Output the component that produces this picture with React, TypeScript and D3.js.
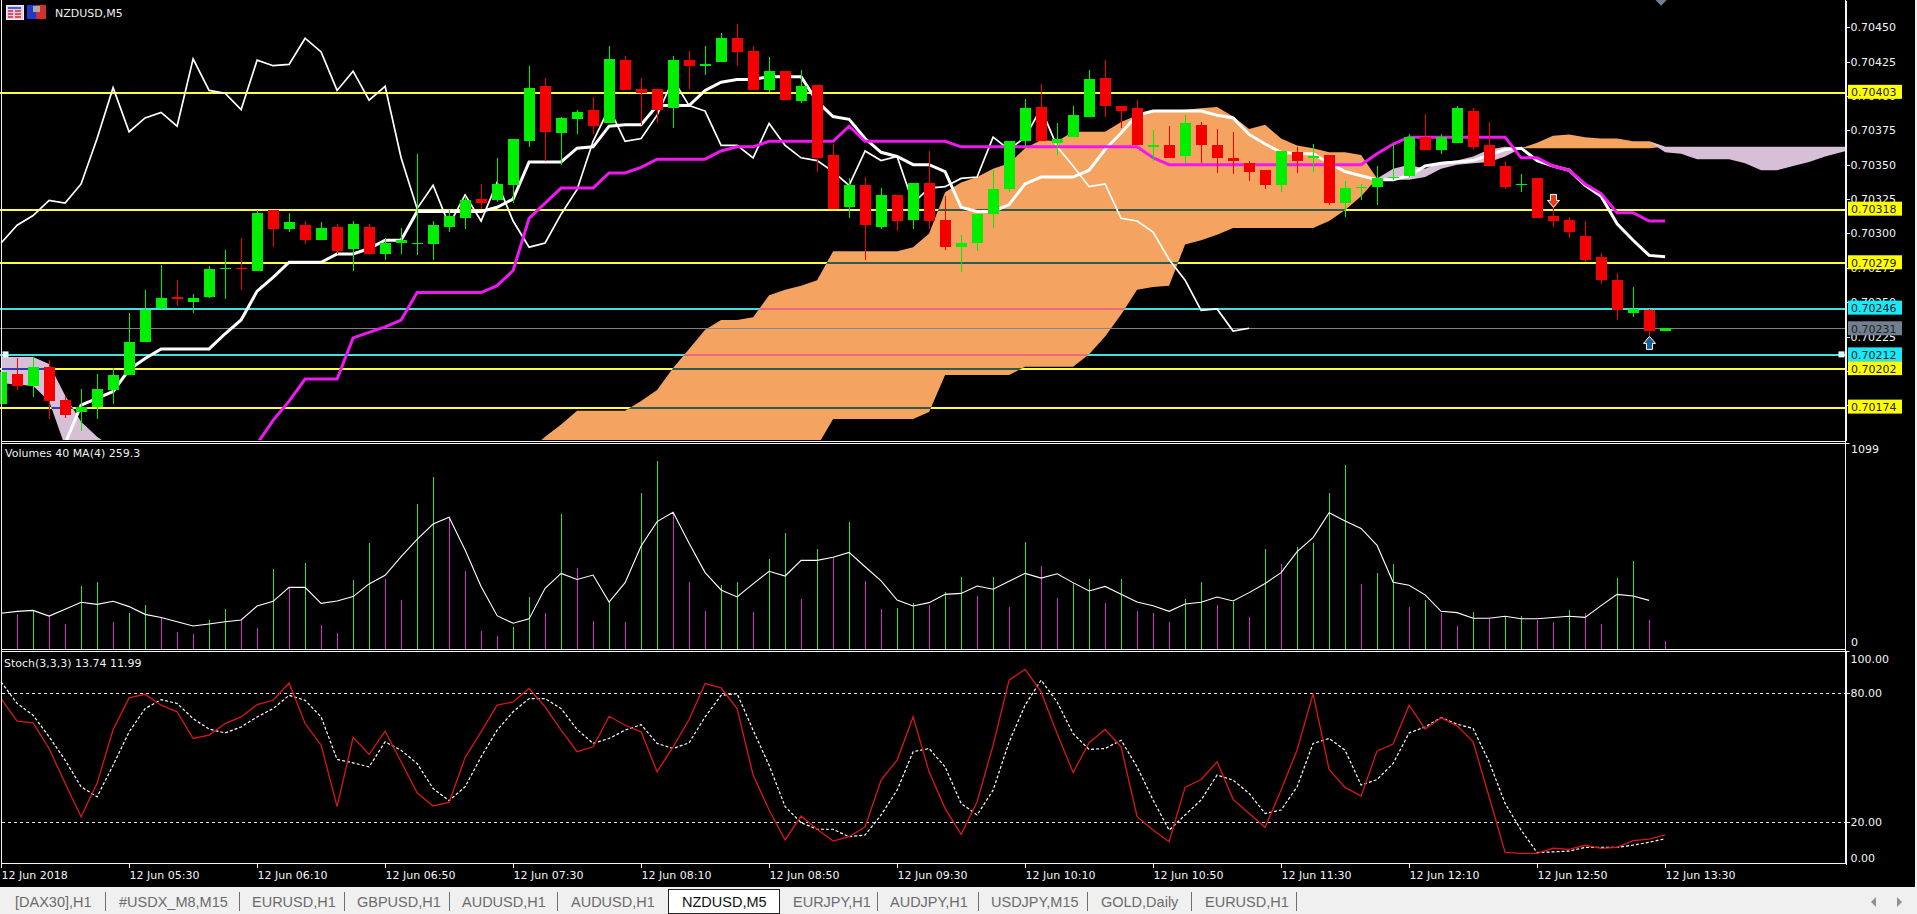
import React, { useEffect, useRef } from 'react';
import * as d3 from 'd3';

// prices are in points, 70403 = 0.70403
const opens = [70176,70198,70189,70203,70179,70170,70174,70186,70197,70221,70246,70254,70250,70254,70274,70275,70273,70317,70303,70306,70295,70305,70289,70305,70285,70293,70292,70292,70305,70311,70325,70324,70335,70367,70407,70373,70383,70390,70380,70426,70405,70405,70391,70426,70422,70425,70442,70433,70404,70418,70396,70408,70357,70319,70335,70305,70328,70310,70337,70310,70290,70293,70314,70332,70367,70392,70366,70370,70385,70413,70393,70391,70363,70364,70356,70379,70364,70355,70351,70346,70335,70359,70355,70357,70322,70333,70334,70340,70342,70370,70361,70366,70389,70364,70349,70335,70340,70313,70310,70298,70283,70266,70242,70244,70229];
const highs = [70203,70209,70210,70208,70182,70187,70198,70202,70242,70259,70277,70266,70256,70276,70288,70297,70317,70317,70315,70309,70308,70307,70309,70307,70297,70304,70358,70309,70317,70327,70336,70355,70369,70422,70413,70385,70390,70399,70436,70429,70413,70405,70429,70433,70436,70446,70452,70436,70428,70418,70419,70408,70365,70340,70341,70333,70328,70337,70360,70327,70299,70314,70346,70367,70398,70409,70380,70393,70419,70426,70393,70397,70375,70378,70386,70381,70376,70374,70353,70346,70360,70363,70365,70357,70338,70336,70349,70365,70372,70387,70372,70393,70391,70381,70353,70343,70340,70329,70312,70309,70286,70271,70261,70245,70231];
const lows = [70175,70186,70181,70165,70166,70156,70165,70176,70197,70221,70245,70247,70242,70253,70252,70259,70273,70290,70301,70292,70295,70285,70273,70284,70281,70285,70284,70281,70301,70303,70318,70323,70322,70363,70353,70350,70372,70372,70380,70404,70379,70380,70377,70405,70415,70425,70422,70404,70403,70397,70395,70345,70318,70311,70281,70303,70302,70303,70303,70288,70272,70287,70304,70330,70363,70367,70357,70370,70385,70385,70377,70364,70353,70355,70351,70351,70344,70343,70338,70332,70330,70344,70345,70321,70312,70324,70321,70339,70341,70361,70358,70366,70361,70349,70332,70330,70311,70305,70297,70279,70263,70237,70239,70224,70229];
const closes = [70199,70189,70203,70178,70168,70174,70187,70197,70221,70244,70253,70252,70253,70274,70275,70274,70315,70303,70308,70295,70304,70287,70307,70285,70293,70295,70293,70306,70313,70324,70322,70336,70369,70406,70374,70384,70388,70378,70427,70404,70402,70390,70426,70422,70423,70442,70432,70404,70418,70397,70407,70355,70318,70335,70306,70328,70309,70337,70309,70290,70293,70314,70332,70367,70391,70367,70369,70386,70412,70393,70389,70364,70364,70355,70380,70364,70355,70353,70345,70335,70360,70353,70356,70322,70333,70334,70340,70341,70370,70361,70370,70391,70363,70349,70334,70336,70311,70309,70301,70281,70266,70244,70245,70229,70231];

const n = null;
const tenkan = [n,n,n,n,70147,70175,70180,70185,70201,70209,70216,70216,70216,70216,70227,70237,70258,70268,70279,70279,70279,70285,70285,70289,70295,70295,70316,70316,70316,70316,70316,70319,70325,70352,70352,70352,70362,70363,70378,70379,70379,70393,70393,70393,70404,70410,70412,70412,70414,70414,70414,70396,70385,70383,70369,70359,70356,70350,70350,70345,70319,70316,70316,70321,70336,70341,70341,70341,70346,70361,70373,70386,70389,70389,70389,70389,70386,70384,70372,70365,70359,70358,70358,70351,70345,70342,70339,70339,70342,70349,70351,70352,70353,70357,70361,70362,70353,70349,70346,70335,70327,70307,70295,70284,70283];
const kijun = [n,n,n,n,n,n,n,n,n,n,n,n,n,n,n,n,70147,70164,70178,70194,70194,70194,70224,70228,70232,70237,70257,70257,70257,70257,70257,70262,70273,70311,70322,70333,70333,70333,70344,70344,70348,70354,70354,70354,70354,70360,70363,70363,70367,70367,70367,70367,70367,70378,70367,70367,70367,70367,70367,70367,70363,70363,70363,70363,70363,70363,70363,70363,70363,70363,70363,70363,70355,70350,70350,70350,70350,70350,70350,70350,70350,70350,70350,70350,70350,70350,70358,70365,70370,70370,70370,70370,70370,70370,70370,70355,70355,70349,70346,70336,70329,70315,70315,70309,70309];
const chikou = [70293,70306,70313,70324,70322,70336,70369,70406,70374,70384,70388,70378,70427,70404,70402,70390,70426,70422,70423,70442,70432,70404,70418,70397,70407,70355,70318,70335,70306,70328,70309,70337,70309,70290,70293,70314,70332,70367,70391,70367,70369,70386,70412,70393,70389,70364,70364,70355,70380,70364,70355,70353,70345,70335,70360,70353,70356,70322,70333,70334,70340,70341,70370,70361,70370,70391,70363,70349,70334,70336,70311,70309,70301,70281,70266,70244,70245,70229,70231];

// cloud runs 26 bars past the last candle, the part before bar 33 mostly sits under the pane
const senkouA = [70191,70190,70189,70178,70145,70142,70142,70144,70130,70130,70130,70130,70130,70130,70130,70130,70130,70130,70130,70130,70130,70130,70130,70130,70130,70130,70130,70130,70130,70130,70130,70130,70130,70142,70152,70161,70171,70171,70171,70171,70178,70186,70202,70216,70230,70237,70237,70239,70255,70259,70262,70266,70287,70287,70287,70287,70287,70290,70300,70330,70337,70341,70347,70351,70362,70368,70367,70374,70374,70374,70381,70386,70389,70389,70390,70391,70392,70385,70376,70379,70369,70364,70362,70359,70359,70357,70340,70339,70339,70341,70347,70350,70351,70352,70356,70362,70366,70371,70372,70370,70369,70369,70367,70367,70359,70358,70354,70354,70354,70351,70346,70346,70349,70352,70356,70359,70362];
const senkouB = [70210,70210,70210,70205,70182,70163,70152,70144,70130,70130,70130,70130,70130,70130,70130,70130,70130,70130,70130,70130,70130,70130,70130,70130,70130,70130,70130,70130,70130,70130,70130,70130,70130,70126,70126,70126,70126,70126,70126,70126,70126,70126,70126,70126,70126,70126,70126,70126,70126,70126,70126,70145,70165,70165,70165,70165,70165,70165,70170,70197,70197,70197,70197,70197,70203,70203,70203,70203,70212,70225,70241,70259,70261,70262,70292,70295,70299,70304,70304,70304,70304,70304,70304,70309,70317,70327,70340,70347,70350,70347,70352,70353,70356,70361,70363,70362,70362,70362,70362,70362,70362,70362,70362,70362,70363,70363,70363,70363,70363,70363,70363,70363,70363,70363,70363,70363,70363];

const volumes = [191,187,205,176,134,335,355,146,194,233,168,92,81,155,212,159,113,423,323,455,127,88,367,561,374,261,769,910,699,416,99,71,120,275,191,716,430,150,252,146,826,997,723,358,205,340,355,198,476,614,268,529,487,674,362,213,221,243,235,302,385,282,385,226,568,443,273,353,370,247,370,205,194,146,265,355,235,252,169,531,452,540,561,826,974,346,402,452,226,261,194,125,198,161,173,176,155,146,208,194,134,377,467,155,44];
const volumeMA = [191,201,206,176,212,249,238,254,226,185,168,146,123,134,146,155,229,254,328,328,243,256,279,346,392,490,582,663,699,526,332,178,138,161,323,402,370,393,250,353,547,676,725,561,406,314,277,346,413,388,471,471,487,513,437,362,261,229,247,291,296,335,318,360,402,377,400,353,309,333,291,250,231,201,240,249,277,256,300,348,406,517,591,723,679,640,550,355,339,288,201,194,164,164,175,162,162,168,175,169,231,291,282,259];

const stochK = [77.6,67.0,66.2,54.2,37.9,22.3,37.9,63.1,77.9,79.6,74.5,71.4,58.9,60.5,65.9,69.0,74.8,76.8,84.9,65.9,55.8,27.0,59.4,51.4,62.3,48.0,33.5,27.3,29.0,50.0,62.0,74.5,76.0,82.3,73.7,62.8,52.7,55.0,69.3,65.1,62.0,43.3,55.0,67.8,84.6,82.6,72.9,41.8,25.4,11.4,22.6,16.4,10.9,12.9,17.6,39.4,48.8,69.0,43.3,26.2,14.0,29.3,55.8,86.2,91.2,80.7,61.2,43.0,56.9,63.1,55.0,22.3,16.1,10.6,36.0,39.7,48.0,30.4,23.8,17.3,34.8,53.5,79.9,44.4,36.0,31.9,53.1,56.3,74.5,63.3,68.6,64.8,57.3,31.6,5.6,5.1,5.1,7.5,7.0,8.9,7.5,7.9,11.1,11.8,13.74];
const stochD = [85.4,75.3,69.8,59.7,48.8,36.3,31.6,46.4,62.0,72.9,77.1,75.3,68.2,63.3,61.5,64.3,69.0,72.9,79.1,76.8,69.0,49.1,47.5,45.6,57.3,53.4,47.2,35.5,29.8,36.3,50.3,62.8,71.4,77.6,77.6,72.9,63.1,56.6,58.9,62.8,65.4,56.6,54.2,56.9,69.0,79.1,79.9,62.8,46.4,27.0,19.5,16.4,16.4,12.9,13.7,23.1,34.7,52.7,54.2,45.6,28.5,23.1,34.7,57.3,74.5,86.2,76.0,61.2,53.8,54.2,58.1,45.6,30.1,16.0,23.1,30.1,41.8,39.4,33.2,23.8,25.4,36.3,56.6,58.9,53.4,37.1,39.7,47.2,61.5,64.3,68.7,65.6,63.6,48.0,28.5,16.0,5.5,5.8,6.2,7.9,7.9,7.9,9.0,10.3,11.99];

const yellowLevels = [70403, 70318, 70279, 70202, 70174];
const cyanLevels = [70246, 70212];
const lastPrice = 70231;
const priceTicks = [70450, 70425, 70400, 70375, 70350, 70325, 70300, 70275, 70250, 70225, 70200, 70175];
const stochTicks = [100, 80, 20, 0];
const timeBars = [0, 8, 16, 24, 32, 40, 48, 56, 64, 72, 80, 88, 96, 104];
const timeLabels = ['12 Jun 2018', '12 Jun 05:30', '12 Jun 06:10', '12 Jun 06:50', '12 Jun 07:30', '12 Jun 08:10', '12 Jun 08:50', '12 Jun 09:30', '12 Jun 10:10', '12 Jun 10:50', '12 Jun 11:30', '12 Jun 12:10', '12 Jun 12:50', '12 Jun 13:30'];

const tabNames = ['[DAX30],H1', '#USDX_M8,M15', 'EURUSD,H1', 'GBPUSD,H1', 'AUDUSD,H1', 'AUDUSD,H1', 'NZDUSD,M5', 'EURJPY,H1', 'AUDJPY,H1', 'USDJPY,M15', 'GOLD,Daily', 'EURUSD,H1'];
const tabStarts = [15, 119, 252, 357, 462, 571, 682, 793, 890, 991, 1101, 1205];
const tabSeps = [105, 239, 344, 449, 557, 877, 978, 1087, 1191, 1296];

const FONT = '"DejaVu Sans", sans-serif';
const W = 1917;
const H = 914;
const AXIS_X = 1845.5;

const App: React.FC = () => {
  const ref = useRef<SVGSVGElement>(null);

  useEffect(() => {
    document.body.style.margin = '0';
    document.body.style.background = '#000';
    const svg = d3.select(ref.current);
    svg.selectAll('*').remove();

    svg.append('rect').attr('width', W).attr('height', H).attr('fill', '#000');

    // scales, one bar is 16px
    const x = d3.scaleLinear().domain([0, 116]).range([1.1, 1857.1]);
    const priceY = d3.scaleLinear().domain([70469.8, 70149.2]).range([0, 440.7]);
    const volY = d3.scaleLinear().domain([0, 1099]).range([649.3, 441.7]);
    const stochY = d3.scaleLinear().domain([0, 100]).range([864.3, 650.7]);

    const defs = svg.append('defs');
    defs.append('clipPath').attr('id', 'pricePane').append('rect')
      .attr('x', 0).attr('y', 0).attr('width', AXIS_X).attr('height', 440);

    // cloud: orange where A is on top, thistle where B is
    const upCloud = d3.area<number>()
      .x((d, i) => x(i))
      .y0((d, i) => priceY(senkouB[i]))
      .y1((d, i) => priceY(Math.max(senkouA[i], senkouB[i])));
    const downCloud = d3.area<number>()
      .x((d, i) => x(i))
      .y0((d, i) => priceY(senkouA[i]))
      .y1((d, i) => priceY(Math.max(senkouA[i], senkouB[i])));

    defs.append('clipPath').attr('id', 'upClip').append('path').attr('d', upCloud(senkouA));
    defs.append('clipPath').attr('id', 'downClip').append('path').attr('d', downCloud(senkouA));

    const price = svg.append('g').attr('clip-path', 'url(#pricePane)');
    price.append('path').attr('d', upCloud(senkouA)).attr('fill', '#f4a460');
    price.append('path').attr('d', downCloud(senkouA)).attr('fill', '#d8bfd8');

    // horizontal levels change colour where they cross the cloud
    const drawLevels = (parent, values, color, width) => {
      parent.selectAll(null)
        .data(values)
        .enter().append('line')
        .attr('x1', 0).attr('x2', AXIS_X)
        .attr('y1', (d) => Math.round(priceY(d)) + 0.5)
        .attr('y2', (d) => Math.round(priceY(d)) + 0.5)
        .attr('stroke', color)
        .attr('stroke-width', width)
        .attr('shape-rendering', 'crispEdges');
    };
    drawLevels(price, yellowLevels, '#ffff40', 2);
    drawLevels(price, cyanLevels, '#40e0e0', 2);
    drawLevels(price, [lastPrice], '#808080', 1);
    const onUp = price.append('g').attr('clip-path', 'url(#upClip)');
    drawLevels(onUp, yellowLevels, '#2f5a50', 2);
    drawLevels(onUp, cyanLevels, '#f0687a', 2);
    drawLevels(onUp, [lastPrice], '#7d8a90', 1);
    const onDown = price.append('g').attr('clip-path', 'url(#downClip)');
    drawLevels(onDown, yellowLevels, '#2a40c0', 2);

    // ichimoku lines
    const priceLine = d3.line<number | null>()
      .defined((d) => d !== null)
      .x((d, i) => x(i))
      .y((d) => priceY(d as number));
    price.append('path').attr('d', priceLine(chikou)).attr('fill', 'none').attr('stroke', '#fff').attr('stroke-width', 1.7);
    price.append('path').attr('d', priceLine(tenkan)).attr('fill', 'none').attr('stroke', '#fff').attr('stroke-width', 3);
    price.append('path').attr('d', priceLine(kijun)).attr('fill', 'none').attr('stroke', '#f018f0').attr('stroke-width', 3);

    // candles
    const candles = price.selectAll('g.candle')
      .data(opens)
      .enter().append('g')
      .attr('class', 'candle')
      .attr('fill', (d, i) => (closes[i] >= d ? '#00ee00' : '#f40000'))
      .attr('shape-rendering', 'crispEdges');
    candles.append('rect')
      .attr('x', (d, i) => Math.round(x(i)))
      .attr('width', 1)
      .attr('y', (d, i) => priceY(highs[i]))
      .attr('height', (d, i) => Math.max(1, priceY(lows[i]) - priceY(highs[i])));
    candles.append('rect')
      .attr('x', (d, i) => Math.round(x(i)) - 5)
      .attr('width', 11)
      .attr('y', (d, i) => priceY(Math.max(d, closes[i])))
      .attr('height', (d, i) => Math.max(1, Math.abs(priceY(d) - priceY(closes[i]))));

    // trade arrows and small handles
    const arrow = (bar, level, fill, dir) => {
      const cx = Math.round(x(bar)) + 0.5;
      const cy = priceY(level);
      const pts = [[0, -7], [6, 0], [3, 0], [3, 6], [-3, 6], [-3, 0], [-6, 0]]
        .map((p) => [cx + p[0], cy + p[1] * dir].join(',')).join(' ');
      svg.append('polygon').attr('points', pts).attr('fill', fill).attr('stroke', '#fff').attr('stroke-width', 1);
    };
    arrow(97, 70324, '#e83a1a', -1);
    arrow(103, 70220, '#1a5c9c', 1);

    svg.append('path')
      .attr('d', d3.symbol(d3.symbolSquare, 70)())
      .attr('transform', `translate(${x(103.75)},${priceY(70470)}) rotate(45)`)
      .attr('fill', '#708090');

    [5.5, 1841.5].forEach((hx) => {
      svg.append('rect')
        .attr('x', hx - 3).attr('y', priceY(cyanLevels[1]) - 3)
        .attr('width', 6).attr('height', 6)
        .attr('fill', '#e0ffff');
    });

    // volumes
    const vol = svg.append('g');
    vol.selectAll('rect')
      .data(volumes)
      .enter().append('rect')
      .attr('x', (d, i) => Math.round(x(i)))
      .attr('width', 1)
      .attr('y', (d) => volY(d))
      .attr('height', (d) => volY(0) - volY(d))
      .attr('shape-rendering', 'crispEdges')
      .attr('fill', (d, i) => (i === 0 || d > volumes[i - 1] ? '#3cdc3c' : '#c838c8'));
    const volLine = d3.line<number>().x((d, i) => x(i)).y((d) => volY(d));
    vol.append('path').attr('d', volLine(volumeMA)).attr('fill', 'none').attr('stroke', '#fff').attr('stroke-width', 1.1);

    // stochastic
    const stoch = svg.append('g');
    stoch.selectAll('line')
      .data([80, 20])
      .enter().append('line')
      .attr('x1', 2).attr('x2', AXIS_X)
      .attr('y1', (d) => Math.round(stochY(d)) + 0.5)
      .attr('y2', (d) => Math.round(stochY(d)) + 0.5)
      .attr('stroke', '#e4e4e4')
      .attr('stroke-dasharray', '3 3');
    const stochLine = d3.line<number>().x((d, i) => x(i)).y((d) => stochY(d));
    stoch.append('path').attr('d', stochLine(stochD)).attr('fill', 'none').attr('stroke', '#fff').attr('stroke-width', 1.2).attr('stroke-dasharray', '3 2');
    stoch.append('path').attr('d', stochLine(stochK)).attr('fill', 'none').attr('stroke', '#d81818').attr('stroke-width', 1.3);

    // pane frame
    const frame = svg.append('g').attr('stroke', '#f4f4f4').attr('shape-rendering', 'crispEdges');
    [441, 443, 649.5, 651.5, 863.5].forEach((fy) => {
      frame.append('line').attr('x1', 1).attr('x2', AXIS_X).attr('y1', fy).attr('y2', fy);
    });
    frame.append('line').attr('x1', 1.5).attr('x2', 1.5).attr('y1', 0).attr('y2', 863.5);

    // axes
    const styleAxis = (g) => {
      g.attr('font-family', FONT).attr('font-size', 11);
      g.selectAll('path,line').attr('stroke', '#f4f4f4').attr('shape-rendering', 'crispEdges');
      g.selectAll('text').attr('fill', '#f4f4f4');
    };
    const priceAxis = d3.axisRight(priceY)
      .tickValues(priceTicks)
      .tickSize(4)
      .tickSizeOuter(0)
      .tickPadding(1)
      .tickFormat((d) => (d / 100000).toFixed(5));
    svg.append('g').attr('transform', `translate(${AXIS_X},0)`).call(priceAxis).call(styleAxis);

    const stochAxis = d3.axisRight(stochY)
      .tickValues(stochTicks)
      .tickSize(4)
      .tickSizeOuter(0)
      .tickPadding(1)
      .tickFormat((d) => d3.format('.2f')(d));
    const stochAxisG = svg.append('g').attr('transform', `translate(${AXIS_X},0)`).call(stochAxis).call(styleAxis);
    stochAxisG.selectAll('.tick').filter((d) => d === 100 || d === 0).select('line').remove();
    stochAxisG.selectAll('.tick').filter((d) => d === 100).select('text').attr('dy', '1.05em');
    stochAxisG.selectAll('.tick').filter((d) => d === 0).select('text').attr('dy', '-0.3em');

    const timeAxis = d3.axisBottom(x)
      .tickValues(timeBars)
      .tickSize(4)
      .tickSizeOuter(0)
      .tickPadding(1)
      .tickFormat((d, i) => timeLabels[i]);
    const timeG = svg.append('g').attr('transform', 'translate(0,863.5)').call(timeAxis).call(styleAxis);
    timeG.select('.domain').remove();
    timeG.selectAll('text').attr('text-anchor', 'start').attr('dy', '0.95em');

    svg.append('line').attr('x1', AXIS_X).attr('x2', AXIS_X).attr('y1', 0).attr('y2', 864)
      .attr('stroke', '#f4f4f4').attr('shape-rendering', 'crispEdges');

    // volume scale
    svg.append('text').attr('x', 1851).attr('y', 453).attr('fill', '#f4f4f4').attr('font-family', FONT).attr('font-size', 11).text('1099');
    svg.append('text').attr('x', 1851).attr('y', 646).attr('fill', '#f4f4f4').attr('font-family', FONT).attr('font-size', 11).text('0');
    svg.append('line').attr('x1', AXIS_X).attr('x2', AXIS_X + 4).attr('y1', 443.5).attr('y2', 443.5).attr('stroke', '#f4f4f4');
    svg.append('line').attr('x1', AXIS_X).attr('x2', AXIS_X + 4).attr('y1', 651.5).attr('y2', 651.5).attr('stroke', '#f4f4f4');

    // coloured price tags sit on top of the axis labels
    const tag = (level, fill) => {
      const cy = priceY(level);
      svg.append('rect').attr('x', 1848).attr('y', cy - 7).attr('width', 54).attr('height', 14).attr('fill', fill);
      svg.append('text')
        .attr('x', 1851).attr('y', cy + 4.5)
        .attr('font-family', FONT).attr('font-size', 11)
        .attr('fill', '#222')
        .text((level / 100000).toFixed(5));
    };
    yellowLevels.forEach((l) => tag(l, '#ffff00'));
    cyanLevels.forEach((l) => tag(l, '#18e8f8'));
    tag(lastPrice, '#708090');

    // titles
    const label = (tx, ty, text) => svg.append('text')
      .attr('x', tx).attr('y', ty)
      .attr('fill', '#f0f0f0').attr('font-family', FONT).attr('font-size', 11)
      .text(text);
    label(55, 17, 'NZDUSD,M5');
    label(5, 457, 'Volumes 40 MA(4) 259.3');
    label(4, 667, 'Stoch(3,3,3) 13.74 11.99');

    // chart window icons
    const icon = svg.append('g').attr('shape-rendering', 'crispEdges');
    icon.append('rect').attr('x', 6).attr('y', 5).attr('width', 17).attr('height', 14).attr('fill', '#d8d0f0').attr('stroke', '#f0e8f8');
    icon.append('rect').attr('x', 8).attr('y', 7).attr('width', 13).attr('height', 2).attr('fill', '#4860c8');
    d3.range(3).forEach((k) => {
      icon.append('rect').attr('x', 8).attr('y', 10 + k * 3).attr('width', 5).attr('height', 2).attr('fill', '#e05050');
      icon.append('rect').attr('x', 15).attr('y', 10 + k * 3).attr('width', 6).attr('height', 2).attr('fill', '#e05050');
    });
    icon.append('rect').attr('x', 27).attr('y', 5).attr('width', 9).attr('height', 14).attr('fill', '#2038d0');
    icon.append('rect').attr('x', 36).attr('y', 5).attr('width', 10).attr('height', 14).attr('fill', '#d03030');
    icon.append('rect').attr('x', 33).attr('y', 6).attr('width', 7).attr('height', 6).attr('fill', '#b0a8a0');

    // tab bar
    svg.append('rect').attr('x', 0).attr('y', 887).attr('width', W).attr('height', 27).attr('fill', '#f0f0f0');
    svg.append('rect').attr('x', W - 2).attr('y', 0).attr('width', 2).attr('height', H).attr('fill', '#f0f0f0');
    svg.append('rect').attr('x', 668).attr('y', 889).attr('width', 111).attr('height', 24)
      .attr('fill', '#fff').attr('stroke', '#222').attr('shape-rendering', 'crispEdges');
    svg.selectAll('line.sep')
      .data(tabSeps)
      .enter().append('line')
      .attr('class', 'sep')
      .attr('x1', (d) => d + 0.5).attr('x2', (d) => d + 0.5)
      .attr('y1', 892).attr('y2', 911)
      .attr('stroke', '#707070');
    svg.selectAll('text.tab')
      .data(tabNames)
      .enter().append('text')
      .attr('class', 'tab')
      .attr('x', (d, i) => tabStarts[i])
      .attr('y', 907)
      .attr('font-family', '"Liberation Sans", sans-serif')
      .attr('font-size', 14.5)
      .attr('fill', (d, i) => (i === 6 ? '#111' : '#6c6c6c'))
      .text((d) => d);
    svg.append('path').attr('d', 'M1876,897 L1871,902 L1876,907 Z').attr('fill', '#909090');
    svg.append('path').attr('d', 'M1897,897 L1902,902 L1897,907 Z').attr('fill', '#909090');
  }, []);

  return <svg ref={ref} width={W} height={H} style={{ position: 'fixed', left: 0, top: 0, display: 'block' }} />;
};

export default App;
